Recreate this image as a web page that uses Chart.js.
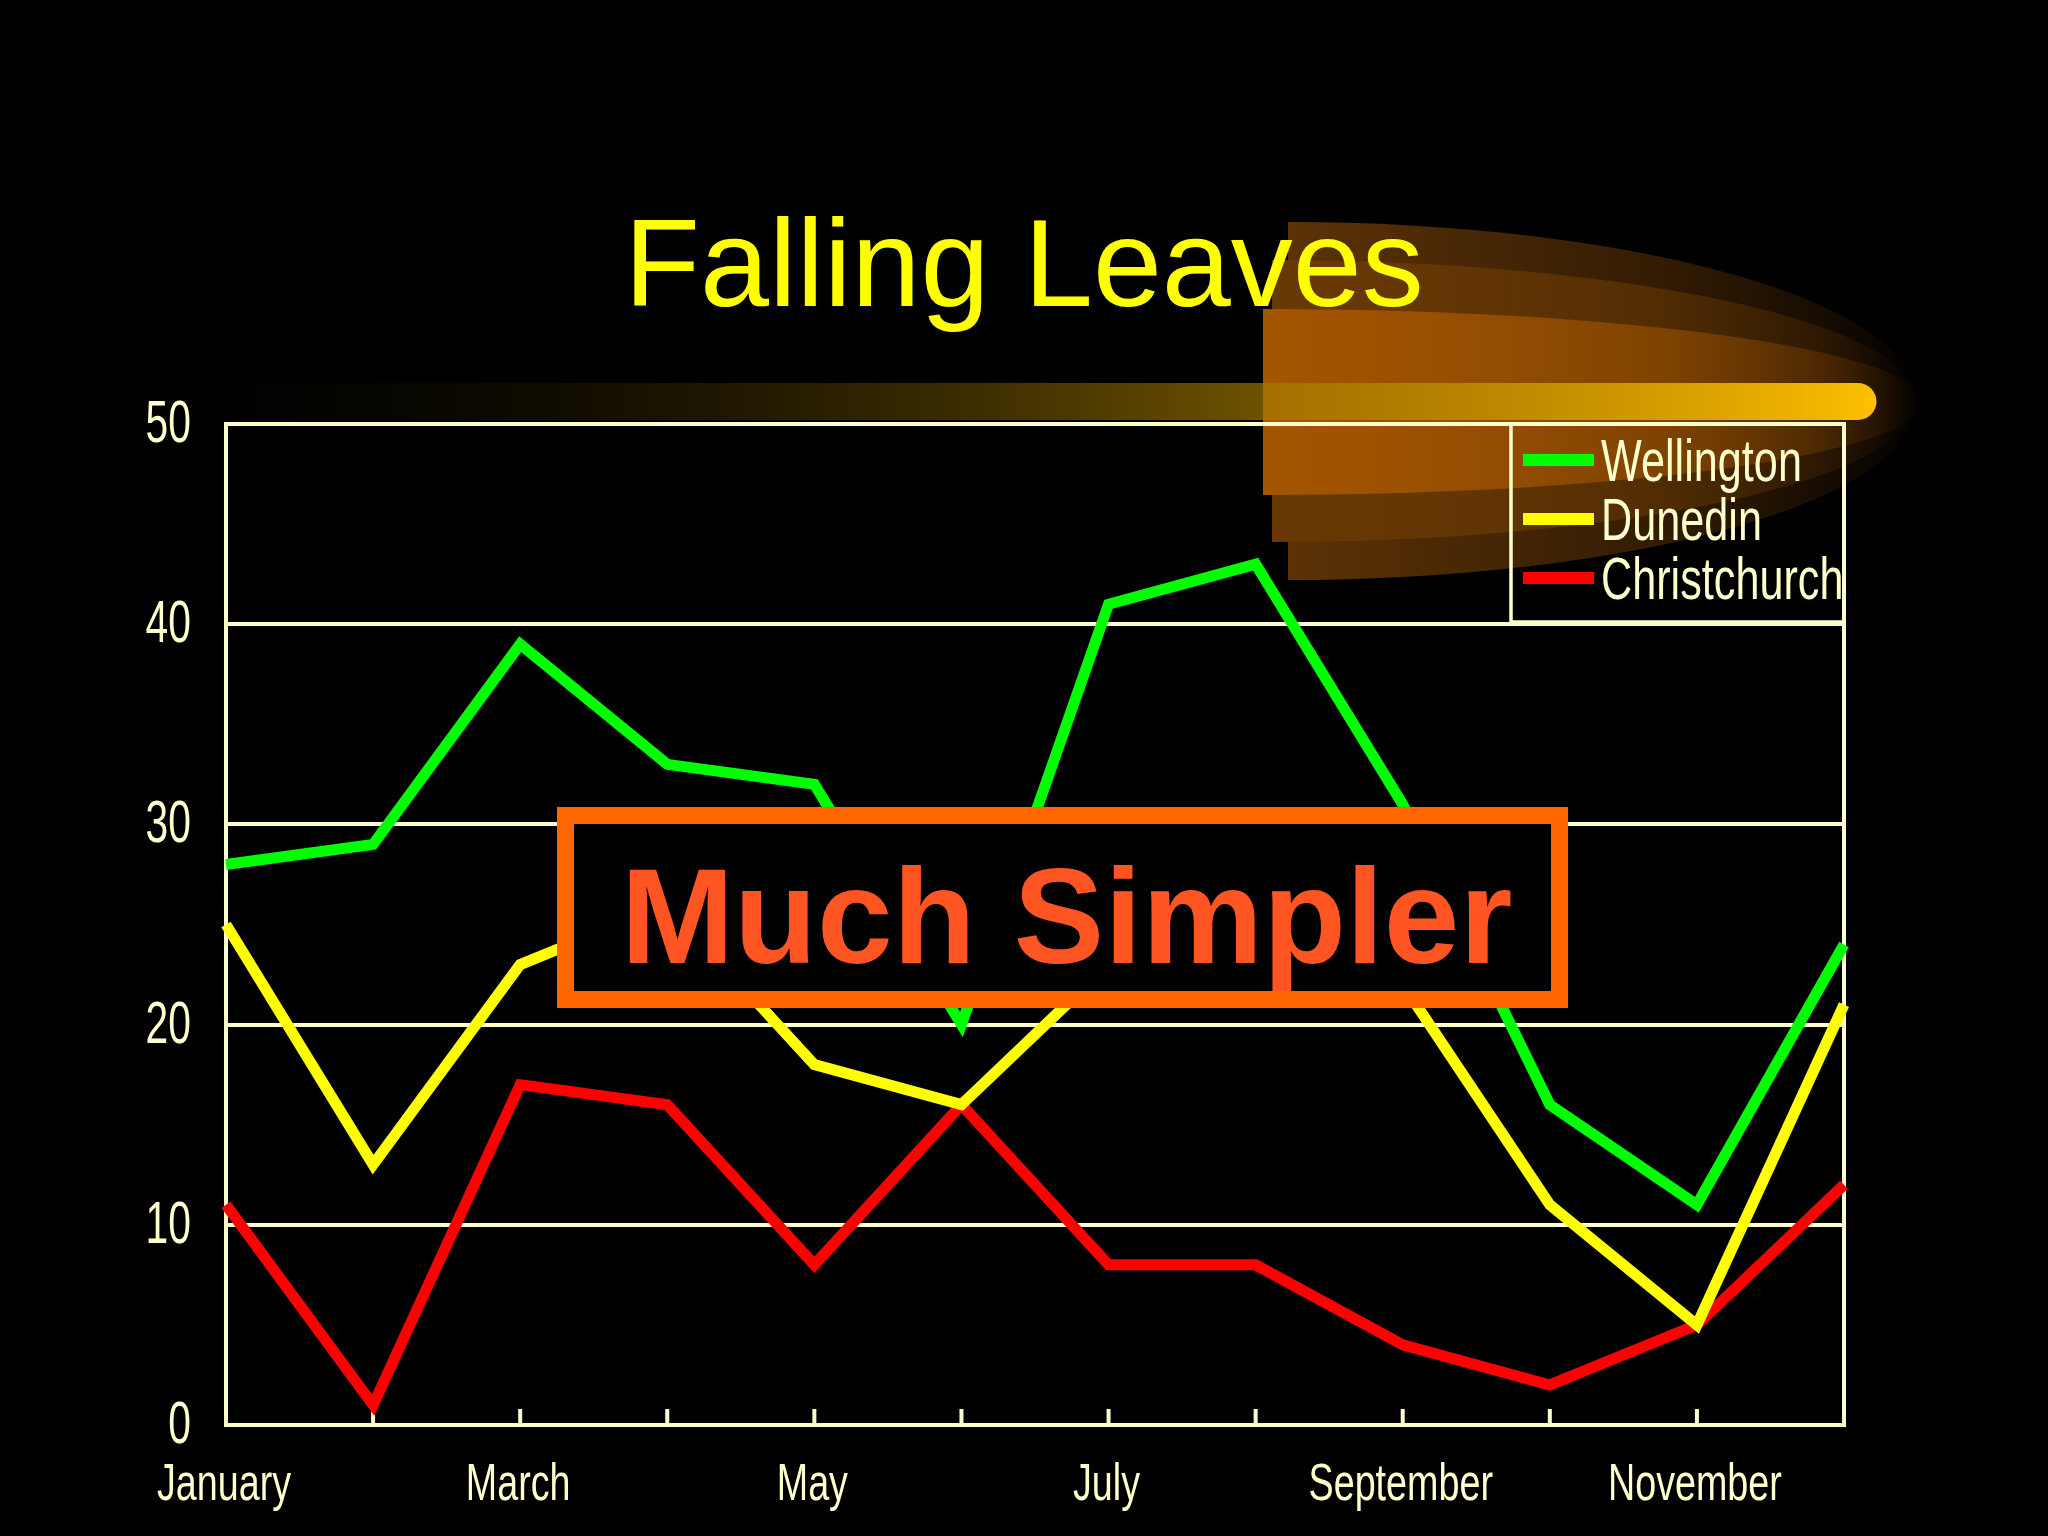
<!DOCTYPE html>
<html>
<head>
<meta charset="utf-8">
<title>Falling Leaves</title>
<script src="https://cdn.jsdelivr.net/npm/chart.js@4.4.1/dist/chart.umd.min.js"></script>
<style>
  html, body { margin: 0; padding: 0; background: #000; }
  #wrap { width: 2048px; height: 1536px; }
</style>
</head>
<body>
<div id="wrap"><canvas id="chart" width="2048" height="1536"></canvas></div>
<script>
// data
const months = ['January', 'February', 'March', 'April', 'May', 'June',
                'July', 'August', 'September', 'October', 'November', 'December'];
const wellington   = [28, 29, 39, 33, 32, 20, 41, 43, 31, 16, 11, 24];
const dunedin      = [25, 13, 23, 26, 18, 16, 23, 25, 22, 11, 5, 21];
const christchurch = [11, 1, 17, 16, 8, 16, 8, 8, 4, 2, 5, 12];
const seriesNames  = ['Wellington', 'Dunedin', 'Christchurch'];
const seriesColors = ['#00FF00', '#FFFF00', '#FF0000'];

const titleText = 'Falling Leaves';
const calloutText = 'Much Simpler';

const cream = '#FFFFCC';
const sans = "'Liberation Sans', Arial, sans-serif";

// the slide uses a squeezed Arial, so draw text scaled horizontally
function squeezedText(ctx, text, x, y, size, squeeze, align) {
    ctx.save();
    ctx.translate(x, y);
    ctx.scale(squeeze, 1);
    ctx.font = size + 'px ' + sans;
    ctx.textAlign = align;
    ctx.textBaseline = 'alphabetic';
    ctx.fillText(text, 0, 0);
    ctx.restore();
}

// half-ellipse band for the glow behind the title
function band(ctx, left, cy, rx, ry, rgb) {
    const g = ctx.createLinearGradient(left, 0, left + rx, 0);
    g.addColorStop(0, 'rgba(' + rgb + ',1)');
    g.addColorStop(0.6, 'rgba(' + rgb + ',0.55)');
    g.addColorStop(0.85, 'rgba(' + rgb + ',0.25)');
    g.addColorStop(1, 'rgba(' + rgb + ',0)');
    ctx.beginPath();
    ctx.moveTo(left, cy - ry);
    ctx.ellipse(left, cy, rx, ry, 0, -Math.PI / 2, Math.PI / 2);
    ctx.closePath();
    ctx.fillStyle = g;
    ctx.fill();
}

const slidePlugin = {
    id: 'slide',
    beforeDraw(chart) {
        const ctx = chart.ctx;
        ctx.save();
        ctx.fillStyle = '#000';
        ctx.fillRect(0, 0, chart.width, chart.height);

        // glow swoosh
        band(ctx, 1288, 401, 630, 179, '92,50,6');
        band(ctx, 1272, 401, 645, 141, '105,57,4');
        band(ctx, 1263, 402, 660, 93, '165,86,0');

        // horizontal bar
        const bg = ctx.createLinearGradient(105, 0, 1876, 0);
        bg.addColorStop(0, 'rgba(0,0,0,0)');
        bg.addColorStop(1, '#FFC000');
        ctx.fillStyle = bg;
        ctx.beginPath();
        ctx.moveTo(110, 383);
        ctx.lineTo(1858, 383);
        ctx.arc(1858, 401.5, 18.5, -Math.PI / 2, Math.PI / 2);
        ctx.lineTo(110, 420);
        ctx.closePath();
        ctx.fill();

        // title
        ctx.fillStyle = '#FFFF00';
        ctx.font = '124px ' + sans;
        ctx.textAlign = 'center';
        ctx.textBaseline = 'alphabetic';
        ctx.fillText(titleText, 1024, 306);
        ctx.restore();
    },
    beforeDatasetsDraw(chart) {
        const ctx = chart.ctx;
        const a = chart.chartArea;
        const x = chart.scales.x;
        const y = chart.scales.y;
        ctx.save();
        ctx.strokeStyle = cream;
        ctx.lineWidth = 4;
        ctx.beginPath();
        ctx.moveTo(a.left, a.top - 2); ctx.lineTo(a.left, a.bottom + 2);
        ctx.moveTo(a.right, a.top - 2); ctx.lineTo(a.right, a.bottom + 2);
        // inward tick marks
        x.ticks.forEach((t, i) => {
            const px = x.getPixelForTick(i);
            ctx.moveTo(px, a.bottom);
            ctx.lineTo(px, a.bottom - 16);
        });
        ctx.stroke();

        // tick labels, placed from the scales
        ctx.fillStyle = cream;
        y.ticks.forEach((t, i) => {
            squeezedText(ctx, String(t.value), 191, y.getPixelForTick(i) + 18, 60, 0.68, 'right');
        });
        x.ticks.forEach((t, i) => {
            if (i % 2 === 0) {
                squeezedText(ctx, x.getLabelForValue(t.value), x.getPixelForTick(i) - 2, 1500, 52, 0.725, 'center');
            }
        });
        ctx.restore();
    },
    afterDatasetsDraw(chart) {
        const ctx = chart.ctx;
        const a = chart.chartArea;
        ctx.save();

        // legend box in the top right corner
        const lx = 1511, ly = a.top, lh = 198;
        ctx.strokeStyle = cream;
        ctx.lineWidth = 3.5;
        ctx.strokeRect(lx, ly, a.right - lx, lh);
        chart.data.datasets.forEach((ds, i) => {
            const cy = ly + 36 + i * 59;
            ctx.strokeStyle = ds.borderColor;
            ctx.lineWidth = 12;
            ctx.beginPath();
            ctx.moveTo(lx + 12, cy);
            ctx.lineTo(lx + 83, cy);
            ctx.stroke();
            ctx.fillStyle = cream;
            squeezedText(ctx, ds.label, lx + 90, cy + 21, 60, 0.72, 'left');
        });

        // callout box
        const bx = 557, by = 807, bw = 1011, bh = 201, bt = 17;
        ctx.fillStyle = '#000';
        ctx.fillRect(bx, by, bw, bh);
        ctx.strokeStyle = '#FF6600';
        ctx.lineWidth = bt;
        ctx.strokeRect(bx + bt / 2, by + bt / 2, bw - bt, bh - bt);
        ctx.fillStyle = '#FF5522';
        ctx.font = 'bold 136px ' + sans;
        ctx.textAlign = 'center';
        ctx.textBaseline = 'alphabetic';
        ctx.fillText(calloutText, bx + bw / 2 + 4, 963);
        ctx.restore();
    }
};

const values = [wellington, dunedin, christchurch];

new Chart(document.getElementById('chart'), {
    type: 'line',
    data: {
        labels: months,
        datasets: values.map((v, i) => ({
            label: seriesNames[i],
            data: v,
            borderColor: seriesColors[i],
            backgroundColor: seriesColors[i],
            borderWidth: 11,
            pointRadius: 0,
            tension: 0,
            fill: false,
            borderJoinStyle: 'miter',
            borderCapStyle: 'butt'
        }))
    },
    options: {
        responsive: false,
        devicePixelRatio: 1,
        animation: false,
        layout: { padding: { top: 424, right: 204, left: 0, bottom: 0 } },
        plugins: {
            legend: { display: false },
            tooltip: { enabled: false },
            title: { display: false }
        },
        scales: {
            x: {
                offset: false,
                grid: { display: false },
                border: { display: false },
                ticks: { display: false, autoSkip: false },
                afterFit: s => { s.height = 111; }
            },
            y: {
                min: 0,
                max: 50,
                grid: { color: cream, lineWidth: 4, drawTicks: false },
                border: { display: false },
                ticks: { display: false, stepSize: 10 },
                afterFit: s => { s.width = 226; }
            }
        }
    },
    plugins: [slidePlugin]
});
</script>
</body>
</html>
